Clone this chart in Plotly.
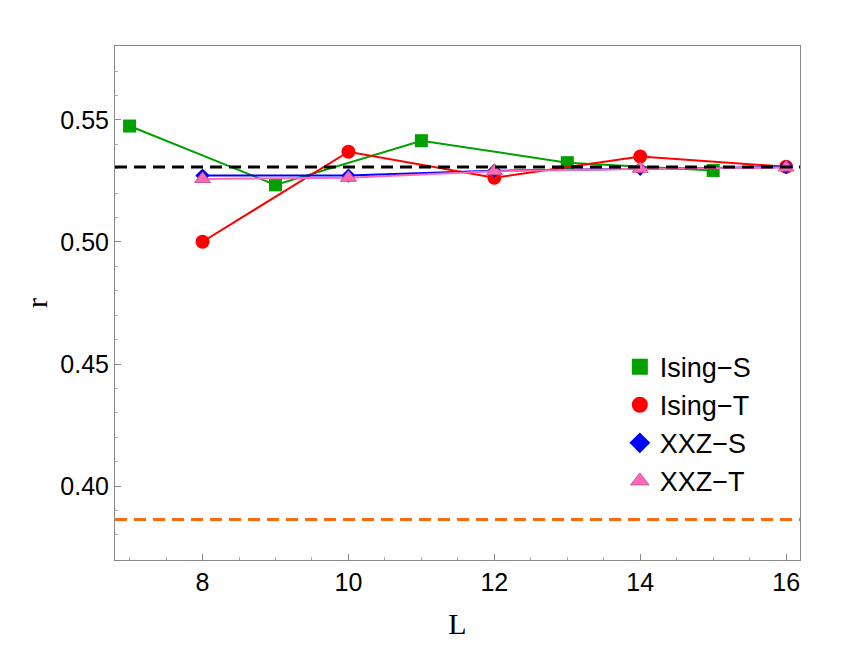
import plotly.graph_objects as go

# data
L_ising_s = [7, 9, 11, 13, 15]
r_ising_s = [0.5475, 0.5234, 0.5415, 0.5325, 0.5293]

L_ising_t = [8, 10, 12, 14, 16]
r_ising_t = [0.5001, 0.5370, 0.5263, 0.5350, 0.5308]

L_xxz_s = [8, 10, 12, 14, 16]
r_xxz_s = [0.5272, 0.5272, 0.5292, 0.5300, 0.5307]

L_xxz_t = [8, 10, 12, 14, 16]
r_xxz_t = [0.5258, 0.5263, 0.5290, 0.5300, 0.5305]

r_goe = 0.5307
r_poisson = 0.3863

names = ['Ising\u2212S', 'Ising\u2212T', 'XXZ\u2212S', 'XXZ\u2212T']

fig = go.Figure()

fig.add_trace(go.Scatter(
    x=L_ising_s, y=r_ising_s, mode='lines+markers', showlegend=False,
    line=dict(color='#00a000', width=2),
    marker=dict(symbol='square', size=13, color='#00a000'),
))
fig.add_trace(go.Scatter(
    x=L_ising_t, y=r_ising_t, mode='lines+markers', showlegend=False,
    line=dict(color='#ff0000', width=2),
    marker=dict(symbol='circle', size=14, color='#ff0000'),
))
fig.add_trace(go.Scatter(
    x=L_xxz_s, y=r_xxz_s, mode='lines+markers', showlegend=False,
    line=dict(color='#0000ff', width=2),
    marker=dict(symbol='diamond', size=11, color='#0000ff'),
))
fig.add_trace(go.Scatter(
    x=L_xxz_t, y=r_xxz_t, mode='lines+markers', showlegend=False,
    line=dict(color='#ff69b4', width=2),
    marker=dict(symbol='triangle-up', size=14, color='#ff69b4',
                line=dict(color='rgb(200,90,150)', width=1)),
))

# legend only entries (markers without lines)
legend_styles = [
    dict(symbol='square', color='#00a000'),
    dict(symbol='circle', color='#ff0000'),
    dict(symbol='diamond', color='#0000ff'),
    dict(symbol='triangle-up', color='#ff69b4', line=dict(color='rgb(200,90,150)', width=1)),
]
for name, st in zip(names, legend_styles):
    fig.add_trace(go.Scatter(x=[None], y=[None], mode='markers', name=name,
                             marker=dict(size=16, **st)))

fig.add_hline(y=r_goe, line=dict(color='black', width=3, dash='12px,7px'))
fig.add_hline(y=r_poisson, line=dict(color='#ff6a10', width=3, dash='12px,7px'))

axis_common = dict(
    showline=True, linecolor='#888888', linewidth=1, mirror=True,
    showgrid=False, zeroline=False,
    ticks='inside', ticklen=6, tickcolor='#888888', tickwidth=1,
    tickfont=dict(family='Liberation Sans, Arial', size=25, color='black'),
)

fig.update_xaxes(
    range=[6.8, 16.19], tickvals=[8, 10, 12, 14, 16],
    minor=dict(ticks='inside', ticklen=3, tickcolor='#aaaaaa', dtick=0.5, tick0=0),
    title=dict(text='L', font=dict(family='Liberation Serif, Times New Roman', size=30, color='black'),
               standoff=17),
    **axis_common,
)
fig.update_yaxes(
    range=[0.3697, 0.5803], tickvals=[0.40, 0.45, 0.50, 0.55], tickformat='.2f',
    minor=dict(ticks='inside', ticklen=3, tickcolor='#aaaaaa', dtick=0.01, tick0=0),
    title=dict(text='r', font=dict(family='Liberation Serif, Times New Roman', size=30, color='black'),
               standoff=3),
    **axis_common,
)

fig.update_layout(
    width=831, height=639,
    margin=dict(l=107, r=39, t=38, b=87, autoexpand=False),
    paper_bgcolor='white', plot_bgcolor='white',
    legend=dict(x=0.737, y=0.423, xanchor='left', yanchor='top',
                bgcolor='rgba(0,0,0,0)', itemsizing='trace', tracegroupgap=0,
                font=dict(family='Liberation Sans, Arial', size=27, color='black')),
)

fig.write_html("out.html")
